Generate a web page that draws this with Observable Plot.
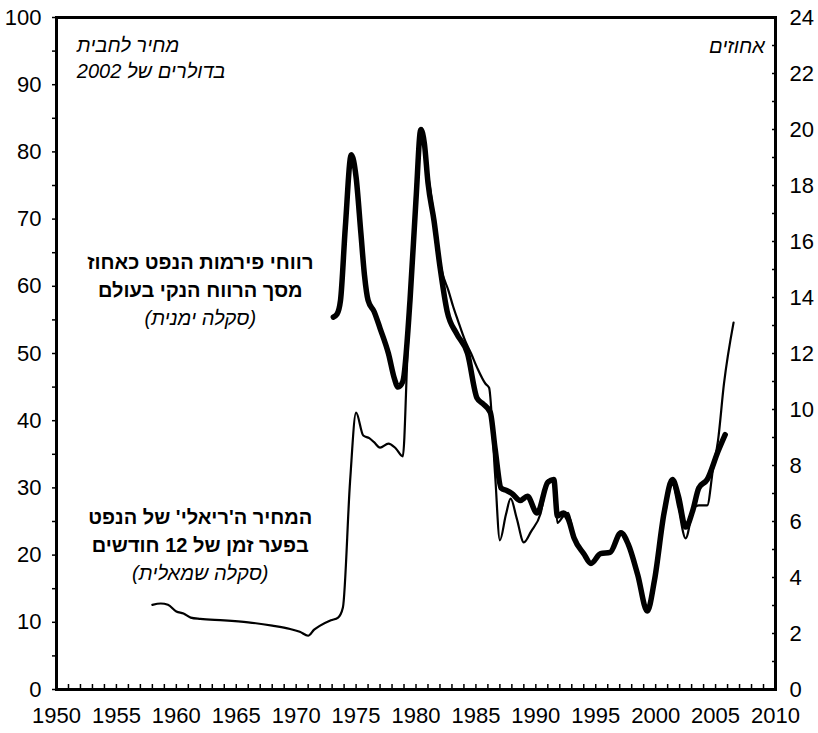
<!DOCTYPE html>
<html>
<head>
<meta charset="utf-8">
<script src="https://cdn.jsdelivr.net/npm/d3@7"></script>
<script src="https://cdn.jsdelivr.net/npm/@observablehq/plot@0.6"></script>
<style>
  body { margin: 0; background: #fff; }
  #chart svg { display: block; }
  #chart svg g[aria-label$="tick label"] text { font-size: 22px !important; }
</style>
</head>
<body>
<div id="chart"></div>
<script>
// Real oil price (12-month lag), 2002 dollars per barrel — left scale
const priceYears = [1958,1958.7,1959.3,1960,1960.6,1961.2,1962,1964,1966,1968,1969.5,1970.3,1971,1971.5,1972,1972.9,1973.5,1973.9,1974.5,1975,1975.6,1976.1,1976.5,1977,1977.7,1978.3,1978.9,1979.3,1979.7,1980.1,1980.5,1980.9,1981.3,1981.7,1982.2,1982.7,1983.1,1983.5,1984.1,1984.6,1985.1,1985.8,1986.1,1986.6,1987,1987.5,1987.9,1988.4,1989,1989.6,1990.4,1991,1991.5,1991.8,1992.3,1992.7,1993.2,1994,1994.6,1995.4,1996.2,1997.1,1997.7,1998.5,1999.3,1999.9,2000.7,2001.4,2001.9,2002.5,2003.2,2003.6,2004.3,2004.8,2005.2,2005.7,2006.5];
const priceValues = [12.6,12.8,12.6,11.6,11.3,10.7,10.5,10.3,10.0,9.5,9.0,8.6,8.0,8.9,9.5,10.3,10.7,12.2,31,41.2,37.8,37.4,36.8,36.0,36.6,35.9,34.7,50.4,65,78,83.5,78,73,67,62,59.4,57,54.9,51.9,50,47.9,45.5,44.9,32,22.2,26,28.4,25.5,21.9,23.5,26.2,31.1,31.4,24.8,25.8,26.3,22.5,20.2,18.8,20.2,20.5,23.3,21.5,17,11.7,16,26,30.5,27,22.5,27.1,27.4,27.4,33,37,45.5,54.6];

// Oil firms' profits as % of world net profit — right scale
const profitYears = [1973.1,1973.4,1973.7,1974.1,1974.6,1975,1975.4,1975.7,1976,1976.5,1977,1977.7,1978.2,1978.5,1978.9,1979.5,1980,1980.4,1980.7,1981,1981.5,1982,1982.6,1983.4,1984.3,1985.1,1985.6,1986.2,1986.6,1987.1,1987.6,1988,1988.7,1989.3,1990.1,1991,1991.5,1991.8,1992.3,1992.7,1993.2,1994,1994.6,1995.4,1996.2,1997.1,1997.7,1998.5,1999.3,1999.9,2000.7,2001.4,2001.9,2002.5,2003.1,2003.6,2004.3,2005.2,2005.8];
const profitValues = [13.3,13.4,13.9,16.5,19.1,18.3,16.3,14.8,13.9,13.5,12.9,12.0,11.1,10.8,11.0,13.9,17.5,20.0,19.5,18.1,16.75,15.1,13.5,12.7,12.0,10.4,10.2,9.9,8.6,7.2,7.1,7.0,6.75,6.9,6.3,7.4,7.5,6.2,6.3,6.1,5.4,4.85,4.5,4.85,4.9,5.6,5.2,4.1,2.8,3.9,6.3,7.5,6.9,5.8,6.4,7.2,7.5,8.5,9.1];

const xTickLabels = [1950,1955,1960,1965,1970,1975,1980,1985,1990,1995,2000,2005,2010];
const leftTickLabels = [0,10,20,30,40,50,60,70,80,90,100];
const rightTickLabels = [0,2,4,6,8,10,12,14,16,18,20,22,24];

const unitLeft = ["מחיר לחבית", "בדולרים של 2002"];
const unitRight = ["אחוזים"];
const profitLabel = ["רווחי פירמות הנפט כאחוז", "מסך הרווח הנקי בעולם", "(סקלה ימנית)"];
const priceLabel = ["המחיר ה'ריאלי' של הנפט", "בפער זמן של 12 חודשים", "(סקלה שמאלית)"];

const RIGHT_MAX = 24, LEFT_MAX = 100;
const toLeft = v => v * LEFT_MAX / RIGHT_MAX;
const rtl = s => "\u202B" + s + "\u202C";

const price = priceYears.map((y, i) => ({year: y, value: priceValues[i]}));
const profit = profitYears.map((y, i) => ({year: y, value: profitValues[i]}));

const lines3 = (arr, x, y0, step) => arr.map((t, i) => ({t: rtl(t), x, y: y0 - i * step, italic: i === 2}));
const annot = [...lines3(profitLabel, 1962, 63.5, 4.15), ...lines3(priceLabel, 1962, 25.6, 4.2)];

const FONT = "'Liberation Sans', Arial, sans-serif";
const TICKFS = 22;

const chart = Plot.plot({
  width: 818,
  height: 733,
  marginLeft: 56,
  marginRight: 43,
  marginTop: 17,
  marginBottom: 44,
  style: {fontFamily: FONT, fontSize: "22px", background: "#fff", color: "#000"},
  x: {domain: [1950, 2010], label: null},
  y: {domain: [0, 100], label: null},
  marks: [
    // x axis: minor ticks every year (inside), labels every 5 years
    Plot.axisX(d3.range(1950, 2011, 1), {tickSize: -5, strokeWidth: 1.5, tickFormat: () => "", label: null}),
    Plot.axisX(xTickLabels, {tickSize: 0, tickPadding: 18, fontSize: TICKFS, tickFormat: d => String(d), label: null}),
    // left axis
    Plot.axisY(d3.range(0, 101, 5), {anchor: "left", tickSize: 4, strokeWidth: 1.5, tickFormat: () => "", label: null}),
    Plot.axisY(leftTickLabels, {anchor: "left", tickSize: 0, tickPadding: 15, fontSize: TICKFS, tickFormat: d => String(d), label: null}),
    // right axis
    Plot.axisY(d3.range(0, 25, 1).map(toLeft), {anchor: "right", tickSize: -4, strokeWidth: 1.5, tickFormat: () => "", label: null}),
    Plot.axisY(rightTickLabels.map(toLeft), {anchor: "right", tickSize: 0, tickPadding: 14, fontSize: TICKFS, tickFormat: d => String(Math.round(d * RIGHT_MAX / LEFT_MAX)), label: null}),
    Plot.frame({stroke: "#000", strokeWidth: 3}),
    // series
    Plot.line(price, {x: "year", y: "value", curve: "monotone-x", stroke: "#000", strokeWidth: 2.2}),
    Plot.line(profit, {x: "year", y: d => toLeft(d.value), curve: "monotone-x", stroke: "#000", strokeWidth: 5.5, strokeLinecap: "round"}),
    // annotations
    Plot.text(annot.filter(d => !d.italic), {x: "x", y: "y", text: "t", fontWeight: "bold", fontSize: 20, textAnchor: "middle", fill: "#000"}),
    Plot.text(annot.filter(d => d.italic), {x: "x", y: "y", text: "t", fontStyle: "italic", fontSize: 20, textAnchor: "middle", fill: "#000"}),
    Plot.text(unitLeft.map((t, i) => ({t: rtl(t), y: 95.8 - i * 3.9})), {x: () => 1951.7, y: "y", text: "t", fontStyle: "italic", fontSize: 20, textAnchor: "start", fill: "#000"}),
    Plot.text(unitRight.map(t => ({t: rtl(t)})), {x: () => 2009.1, y: () => 95.6, text: "t", fontStyle: "italic", fontSize: 20, textAnchor: "end", fill: "#000"})
  ]
});
document.getElementById("chart").appendChild(chart);
</script>
</body>
</html>
